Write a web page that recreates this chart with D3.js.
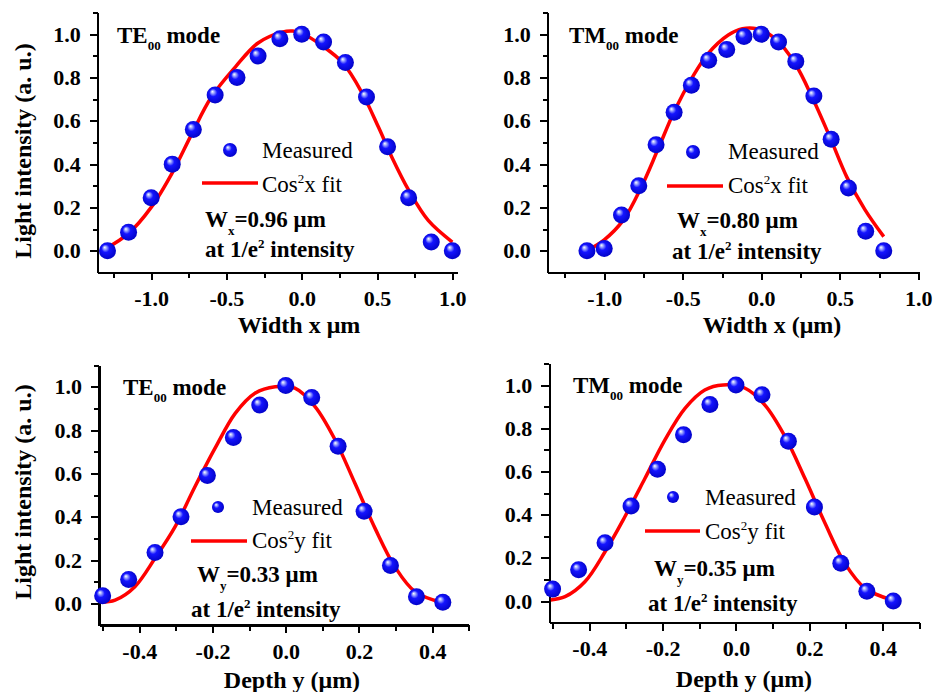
<!DOCTYPE html>
<meta charset="utf-8">
<style>
body { margin: 0; background: #fff; }
svg text { font-family: "Liberation Serif", "Times New Roman", serif; fill: #000; }
.axis path, .axis line { stroke: #000; shape-rendering: crispEdges; }
.axis path { stroke-width: 2.5; }
.axis line { stroke-width: 2; }
</style>
<div id="chart"></div>
<script src="https://d3js.org/d3.v7.min.js"></script>
<script>

// tick values and labels
var yTicks = [0, 0.2, 0.4, 0.6, 0.8, 1.0];
var yMinorTicks = [0.1, 0.3, 0.5, 0.7, 0.9, 1.1];
var widthTicks = [-1.0, -0.5, 0.0, 0.5, 1.0];
var widthTickLabels = ["-1.0", "-0.5", "0.0", "0.5", "1.0"];
var widthMinorTicks = [-1.25, -0.75, -0.25, 0.25, 0.75];
var depthTicks = [-0.4, -0.2, 0.0, 0.2, 0.4];
var depthTickLabels = ["-0.4", "-0.2", "0.0", "0.2", "0.4"];
var depthMinorTicks = [-0.5, -0.3, -0.1, 0.1, 0.3, 0.5];

// TE00, width x : measured
var teWidthX = [-1.29, -1.15, -1.0, -0.86, -0.72, -0.575, -0.43, -0.29, -0.145, 0, 0.145, 0.29, 0.43, 0.57, 0.71, 0.86, 1.0];
var teWidthY = [0.0, 0.085, 0.245, 0.40, 0.56, 0.72, 0.80, 0.90, 0.98, 1.0, 0.965, 0.87, 0.71, 0.48, 0.245, 0.04, 0.0];
// TE00, width x : cos^2 fit
var teWidthFitX = [-1.30, -1.15, -1.0, -0.86, -0.73, -0.60, -0.44, -0.29, -0.13, -0.06, 0.0, 0.13, 0.27, 0.40, 0.51, 0.60, 0.71, 0.84, 1.0];
var teWidthFitY = [0.01, 0.08, 0.20, 0.36, 0.54, 0.71, 0.85, 0.96, 1.01, 1.015, 1.005, 0.95, 0.87, 0.73, 0.57, 0.43, 0.28, 0.14, 0.04];

// TM00, width x : measured
var tmWidthX = [-1.11, -1.0, -0.89, -0.78, -0.67, -0.555, -0.445, -0.335, -0.22, -0.11, 0, 0.11, 0.22, 0.335, 0.445, 0.555, 0.665, 0.78];
var tmWidthY = [0.0, 0.01, 0.165, 0.30, 0.49, 0.64, 0.765, 0.88, 0.93, 0.99, 1.0, 0.965, 0.875, 0.715, 0.515, 0.29, 0.09, 0.0];
// TM00, width x : cos^2 fit
var tmWidthFitX = [-1.11, -1.0, -0.88, -0.76, -0.66, -0.55, -0.44, -0.34, -0.21, -0.12, -0.03, 0.09, 0.215, 0.33, 0.44, 0.545, 0.66, 0.78];
var tmWidthFitY = [0.0, 0.05, 0.14, 0.30, 0.465, 0.65, 0.80, 0.91, 0.997, 1.026, 1.026, 0.98, 0.865, 0.70, 0.52, 0.34, 0.19, 0.065];

// TE00, depth y : measured
var teDepthX = [-0.5, -0.429, -0.357, -0.286, -0.214, -0.143, -0.071, 0, 0.071, 0.143, 0.214, 0.286, 0.357, 0.429];
var teDepthY = [0.035, 0.11, 0.235, 0.40, 0.59, 0.765, 0.915, 1.005, 0.95, 0.725, 0.425, 0.175, 0.03, 0.005];
// TE00, depth y : cos^2 fit
var teDepthFitX = [-0.505, -0.466, -0.412, -0.357, -0.302, -0.248, -0.193, -0.138, -0.084, -0.029, 0.025, 0.080, 0.135, 0.189, 0.244, 0.298, 0.353, 0.428];
var teDepthFitY = [0.005, 0.015, 0.077, 0.208, 0.354, 0.538, 0.716, 0.877, 0.970, 1.0, 0.993, 0.908, 0.754, 0.554, 0.346, 0.169, 0.054, 0.003];

// TM00, depth y : measured
var tmDepthX = [-0.5, -0.429, -0.357, -0.286, -0.214, -0.143, -0.071, 0, 0.071, 0.143, 0.214, 0.286, 0.357, 0.429];
var tmDepthY = [0.055, 0.145, 0.27, 0.44, 0.61, 0.77, 0.91, 1.0, 0.955, 0.74, 0.435, 0.175, 0.045, 0.0];
// TM00, depth y : cos^2 fit
var tmDepthFitX = [-0.505, -0.466, -0.412, -0.357, -0.303, -0.248, -0.194, -0.139, -0.085, -0.035, 0.025, 0.079, 0.134, 0.188, 0.243, 0.297, 0.352, 0.425];
var tmDepthFitY = [0.005, 0.02, 0.089, 0.228, 0.39, 0.568, 0.745, 0.892, 0.977, 1.0, 0.985, 0.907, 0.761, 0.568, 0.36, 0.174, 0.059, 0.005];

var svg = d3.select("#chart")
  .append("svg")
    .attr("width", 936)
    .attr("height", 692);

// shiny blue ball
var grad = svg.append("defs").append("radialGradient")
    .attr("id", "ball")
    .attr("cx", "48%").attr("cy", "48%").attr("r", "58%")
    .attr("fx", "33%").attr("fy", "30%");
grad.append("stop").attr("offset", "0%").attr("stop-color", "#ffffff");
grad.append("stop").attr("offset", "14%").attr("stop-color", "#aab4ff");
grad.append("stop").attr("offset", "40%").attr("stop-color", "#1414ff");
grad.append("stop").attr("offset", "100%").attr("stop-color", "#0000c0");

var panels = [
  { left: 97.7, right: 457.3, top: 12.7, bottom: 272.3, xDomain: [-1.355, 1.033],
    xTicks: widthTicks, xLabels: widthTickLabels, xMinor: widthMinorTicks,
    mx: teWidthX, my: teWidthY, fx: teWidthFitX, fy: teWidthFitY, r: 8.5,
    mode: "TE", modeX: 117, modeY: 43, yTitle: [31, 151],
    xTitle: "Width x \u03bcm", xTitleX: 299, xTitleY: 333,
    legend: { ballX: 230, ballY: 150, ballR: 7, textX: 262, measY: 158, lineX1: 202, lineX2: 258, lineY: 183, fitY: 192,
              v: "x", wX: 205, wY: 227, wText: "=0.96 \u03bcm", aX: 205, aY: 257 } },
  { left: 547.7, right: 918.3, top: 12.7, bottom: 272.3, xDomain: [-1.36, 1.0],
    xTicks: widthTicks, xLabels: widthTickLabels, xMinor: widthMinorTicks,
    mx: tmWidthX, my: tmWidthY, fx: tmWidthFitX, fy: tmWidthFitY, r: 8.5,
    mode: "TM", modeX: 569, modeY: 43, yTitle: null,
    xTitle: "Width x (\u03bcm)", xTitleX: 772, xTitleY: 333,
    legend: { ballX: 693, ballY: 152, ballR: 7, textX: 728, measY: 159, lineX1: 667, lineX2: 723, lineY: 186, fitY: 193,
              v: "x", wX: 677, wY: 228, wText: "=0.80 \u03bcm", aX: 672, aY: 259 } },
  { left: 99, right: 468.3, top: 365, bottom: 625, xDomain: [-0.51, 0.4986],
    xTicks: depthTicks, xLabels: depthTickLabels, xMinor: depthMinorTicks,
    mx: teDepthX, my: teDepthY, fx: teDepthFitX, fy: teDepthFitY, r: 8.5,
    mode: "TE", modeX: 123, modeY: 395, yTitle: [31, 492],
    xTitle: "Depth y (\u03bcm)", xTitleX: 292, xTitleY: 688,
    legend: { ballX: 218, ballY: 507, ballR: 6, textX: 252, measY: 515, lineX1: 191, lineX2: 247, lineY: 541, fitY: 548,
              v: "y", wX: 197, wY: 582, wText: "=0.33 \u03bcm", aX: 191, aY: 617 } },
  { left: 549.3, right: 919.3, top: 363.4, bottom: 622.6, xDomain: [-0.509, 0.5],
    xTicks: depthTicks, xLabels: depthTickLabels, xMinor: depthMinorTicks,
    mx: tmDepthX, my: tmDepthY, fx: tmDepthFitX, fy: tmDepthFitY, r: 8.5,
    mode: "TM", modeX: 573, modeY: 393, yTitle: null,
    xTitle: "Depth y (\u03bcm)", xTitleX: 744, xTitleY: 687,
    legend: { ballX: 673, ballY: 497, ballR: 6, textX: 705, measY: 505, lineX1: 645, lineX2: 700, lineY: 531, fitY: 539,
              v: "y", wX: 654, wY: 576, wText: "=0.35 \u03bcm", aX: 648, aY: 611 } }
];

panels.forEach(drawPanel);

function drawPanel(p) {
  var g = svg.append("g");

  var x = d3.scaleLinear().domain(p.xDomain).range([p.left, p.right]);
  var y = d3.scaleLinear().domain([-0.1, 1.1]).range([p.bottom, p.top]);

  // minor ticks first, then the labelled axes
  g.append("g").attr("class", "axis")
    .attr("transform", "translate(0," + p.bottom + ")")
    .call(d3.axisBottom(x).tickValues(p.xMinor).tickSize(6).tickSizeOuter(0).tickFormat(""));
  g.append("g").attr("class", "axis")
    .attr("transform", "translate(" + p.left + ",0)")
    .call(d3.axisLeft(y).tickValues(yMinorTicks).tickSize(5).tickSizeOuter(0).tickFormat(""));

  g.append("g").attr("class", "axis")
    .attr("transform", "translate(0," + p.bottom + ")")
    .call(d3.axisBottom(x).tickValues(p.xTicks).tickSize(8).tickSizeOuter(0).tickPadding(10)
      .tickFormat(function(d, i) { return p.xLabels[i]; }));
  g.append("g").attr("class", "axis")
    .attr("transform", "translate(" + p.left + ",0)")
    .call(d3.axisLeft(y).tickValues(yTicks).tickSize(8).tickSizeOuter(0).tickPadding(9)
      .tickFormat(d3.format(".1f")));
  g.selectAll(".axis text")
    .attr("font-family", "Liberation Serif, Times New Roman, serif")
    .attr("font-size", 22)
    .attr("font-weight", "bold");

  // axis titles
  g.append("text")
    .attr("x", p.xTitleX).attr("y", p.xTitleY)
    .attr("text-anchor", "middle")
    .attr("font-size", 24).attr("font-weight", "bold")
    .text(p.xTitle);
  if (p.yTitle) {
    g.append("text")
      .attr("transform", "translate(" + p.yTitle[0] + "," + p.yTitle[1] + ") rotate(-90)")
      .attr("text-anchor", "middle")
      .attr("font-size", 24).attr("font-weight", "bold")
      .text("Light intensity (a. u.)");
  }

  // fit curve
  var fit = p.fx.map(function(d, i) { return [d, p.fy[i]]; });
  g.append("path")
    .datum(fit)
    .attr("fill", "none")
    .attr("stroke", "#f00")
    .attr("stroke-width", 3.5)
    .attr("d", d3.line()
      .curve(d3.curveCatmullRom.alpha(0.5))
      .x(function(d) { return x(d[0]); })
      .y(function(d) { return y(d[1]); }));

  // measured points
  var pts = p.mx.map(function(d, i) { return [d, p.my[i]]; });
  g.append("g").selectAll("circle")
    .data(pts)
    .enter()
    .append("circle")
      .attr("cx", function(d) { return x(d[0]); })
      .attr("cy", function(d) { return y(d[1]); })
      .attr("r", p.r)
      .attr("fill", "url(#ball)");

  // mode label
  var m = g.append("text")
    .attr("x", p.modeX).attr("y", p.modeY)
    .attr("font-size", 23).attr("font-weight", "bold");
  m.append("tspan").text(p.mode);
  m.append("tspan").attr("font-size", 13).attr("dy", 7).text("00");
  m.append("tspan").attr("dy", -7).text(" mode");

  // legend
  var L = p.legend;
  g.append("circle")
    .attr("cx", L.ballX).attr("cy", L.ballY).attr("r", L.ballR)
    .attr("fill", "url(#ball)");
  g.append("text")
    .attr("x", L.textX).attr("y", L.measY)
    .attr("font-size", 23)
    .text("Measured");
  g.append("line")
    .attr("x1", L.lineX1).attr("x2", L.lineX2)
    .attr("y1", L.lineY).attr("y2", L.lineY)
    .attr("stroke", "#f00").attr("stroke-width", 3.5);
  var c = g.append("text")
    .attr("x", L.textX).attr("y", L.fitY)
    .attr("font-size", 23);
  c.append("tspan").text("Cos");
  c.append("tspan").attr("font-size", 13).attr("dy", -9).text("2");
  c.append("tspan").attr("dy", 9).text(L.v + " fit");

  var w = g.append("text")
    .attr("x", L.wX).attr("y", L.wY)
    .attr("font-size", 23).attr("font-weight", "bold");
  w.append("tspan").text("W");
  w.append("tspan").attr("font-size", 13).attr("dy", 8).text(L.v);
  w.append("tspan").attr("dy", -8).text(L.wText);

  var a = g.append("text")
    .attr("x", L.aX).attr("y", L.aY)
    .attr("font-size", 23).attr("font-weight", "bold");
  a.append("tspan").text("at 1/e");
  a.append("tspan").attr("font-size", 13).attr("dy", -9).text("2");
  a.append("tspan").attr("dy", 9).text(" intensity");
}

</script>
